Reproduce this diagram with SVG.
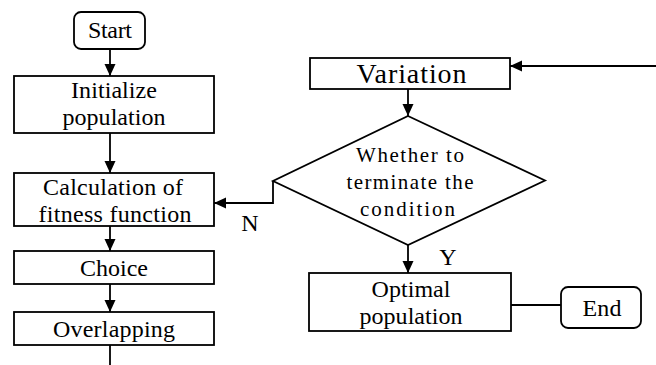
<svg xmlns="http://www.w3.org/2000/svg" width="656" height="365" viewBox="0 0 656 365" font-family="'Liberation Serif', 'Times New Roman', serif">
<defs>
<style>
.box{fill:#fff;stroke:#000;stroke-width:1.8}
.ln{fill:none;stroke:#000;stroke-width:1.8}
text{font-family:'Liberation Serif','Times New Roman',serif;fill:#000;text-anchor:middle}
.t{font-size:24px}
.d{font-size:21px}
.v{font-size:28px}
</style>
<marker id="ah" markerUnits="userSpaceOnUse" markerWidth="13" markerHeight="12" refX="12" refY="6" orient="auto">
<path d="M0,0.5 L12,6 L0,11.5 Z" fill="#000"/>
</marker>
</defs>
<rect width="656" height="365" fill="#fff"/>
<g id="connectors">
<line class="ln" x1="110" y1="49" x2="110" y2="76" marker-end="url(#ah)"/>
<line class="ln" x1="110" y1="133" x2="110" y2="173" marker-end="url(#ah)"/>
<line class="ln" x1="110" y1="226" x2="110" y2="251" marker-end="url(#ah)"/>
<line class="ln" x1="110" y1="284" x2="110" y2="312" marker-end="url(#ah)"/>
<line class="ln" x1="110" y1="345" x2="110" y2="366"/>
<line class="ln" x1="656" y1="66" x2="510" y2="66" marker-end="url(#ah)"/>
<line class="ln" x1="408" y1="89" x2="408" y2="116" marker-end="url(#ah)"/>
<polyline class="ln" points="273,181 273,203 214,203" marker-end="url(#ah)"/>
<line class="ln" x1="408" y1="245" x2="408" y2="273" marker-end="url(#ah)"/>
<line class="ln" x1="511" y1="305" x2="561" y2="305"/>
<text class="t" x="250" y="231">N</text>
<text class="t" x="448" y="265">Y</text>
</g>
<g id="start">
<rect class="box" x="74" y="12" width="71" height="37" rx="7"/>
<text class="t" x="110" y="37.5" textLength="44" lengthAdjust="spacing">Start</text>
</g>
<g id="init">
<rect class="box" x="14" y="76" width="200" height="57"/>
<text class="t" x="114" y="97.5" textLength="86" lengthAdjust="spacing">Initialize</text>
<text class="t" x="114" y="124.5" textLength="103" lengthAdjust="spacing">population</text>
</g>
<g id="calc">
<rect class="box" x="14" y="173" width="200" height="53"/>
<text class="t" x="113" y="195" textLength="140" lengthAdjust="spacing">Calculation of</text>
<text class="t" x="115" y="221.5" textLength="153" lengthAdjust="spacing">fitness function</text>
</g>
<g id="choice">
<rect class="box" x="14" y="251" width="200" height="33"/>
<text class="t" x="114" y="275.5" textLength="68" lengthAdjust="spacing">Choice</text>
</g>
<g id="overlap">
<rect class="box" x="14" y="312" width="200" height="33"/>
<text class="t" x="114" y="336.5" textLength="122" lengthAdjust="spacing">Overlapping</text>
</g>
<g id="variation">
<rect class="box" x="310" y="58" width="200" height="31"/>
<text class="v" x="411.5" y="82.5" textLength="110" lengthAdjust="spacing">Variation</text>
</g>
<g id="decision">
<polygon class="box" points="408,116 545,180.5 408,245 273,181"/>
<text class="d" x="410" y="161.5" textLength="108" lengthAdjust="spacing">Whether to</text>
<text class="d" x="410" y="189" textLength="127" lengthAdjust="spacing">terminate the</text>
<text class="d" x="407.5" y="216" textLength="95" lengthAdjust="spacing">condition</text>
</g>
<g id="optimal">
<rect class="box" x="309" y="273" width="202" height="58"/>
<text class="t" x="411" y="297" textLength="79" lengthAdjust="spacing">Optimal</text>
<text class="t" x="411" y="324" textLength="103" lengthAdjust="spacing">population</text>
</g>
<g id="end">
<rect class="box" x="561" y="287" width="80" height="41" rx="7"/>
<text class="t" x="602" y="315.5" textLength="39" lengthAdjust="spacing">End</text>
</g>
</svg>
